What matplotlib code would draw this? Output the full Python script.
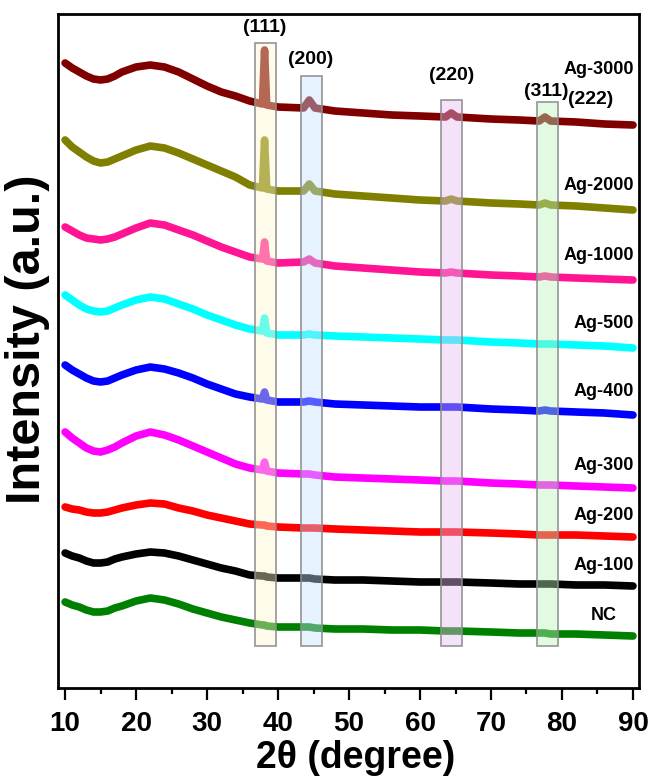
import matplotlib
matplotlib.use("Agg")
import matplotlib.pyplot as plt
from matplotlib.patches import Rectangle
from matplotlib.ticker import MultipleLocator

plt.rcParams['font.family'] = ['Liberation Sans', 'DejaVu Sans']
plt.rcParams['font.weight'] = 'bold'

# 2-theta positions (degree)
two_theta = [10, 11, 12, 13, 14, 15, 16, 17, 18, 20, 22, 24, 26, 28, 30, 32, 34, 36,
             37.8, 38.1, 38.4, 40, 43.6, 44.4, 45.2,
             48, 52, 56, 60, 63.6, 64.4, 65.2, 70, 74, 76.8, 77.6, 78.4, 82, 86, 90]

# intensities (a.u., stacked with offsets as in the figure)
ag3000 = [637, 632, 628, 624, 621, 620, 621, 624, 628, 633, 635, 633, 628, 621, 614, 608, 604, 599,
          596, 650, 595, 593, 592, 600, 592,
          589, 587, 585, 584, 583, 587, 583, 581, 580, 579, 583, 579, 578, 576, 575]
ag2000 = [560, 553, 548, 543, 539, 537, 538, 541, 544, 550, 554, 552, 547, 541, 535, 529, 523, 515,
          512, 560, 511, 509, 509, 516, 509,
          506, 504, 502, 500, 499, 501, 499, 497, 496, 495, 497, 495, 494, 492, 490]
ag1000 = [473, 469, 465, 462, 461, 460, 461, 463, 466, 472, 477, 475, 470, 465, 459, 453, 448, 443,
          441, 458, 439, 437, 438, 441, 437,
          434, 432, 430, 428, 427, 428, 427, 425, 424, 423, 424, 423, 422, 421, 420]
ag500 = [405, 400, 395, 391, 389, 388, 389, 392, 395, 400, 403, 401, 396, 391, 385, 380, 375, 371,
         369, 382, 367, 365, 365, 366, 365,
         364, 363, 362, 361, 360, 360, 360, 358, 357, 356, 356, 356, 355, 354, 352]
ag400 = [335, 330, 326, 322, 319, 318, 319, 322, 325, 330, 333, 331, 327, 322, 316, 311, 306, 303,
         301, 308, 300, 298, 298, 299, 298,
         296, 295, 294, 293, 293, 293, 293, 291, 290, 289, 290, 289, 288, 287, 285]
ag300 = [268, 262, 257, 252, 249, 248, 250, 253, 257, 264, 268, 265, 260, 254, 248, 242, 236, 232,
         230, 238, 229, 227, 226, 226, 225,
         223, 222, 221, 220, 219, 219, 219, 217, 216, 215, 215, 215, 214, 213, 212]
ag200 = [193, 191, 190, 188, 187, 187, 188, 190, 192, 195, 197, 196, 192, 189, 185, 182, 179, 176,
         175, 175, 174, 173, 172, 172, 172,
         171, 170, 169, 168, 168, 168, 168, 167, 166, 165, 165, 165, 165, 164, 163]
ag100 = [147, 144, 142, 139, 137, 137, 138, 141, 143, 146, 148, 147, 144, 140, 136, 132, 129, 125,
         124, 124, 123, 122, 122, 122, 121,
         120, 120, 119, 118, 118, 118, 118, 117, 116, 116, 116, 116, 115, 115, 114]
nc = [98, 95, 93, 90, 88, 88, 89, 92, 94, 99, 102, 100, 96, 91, 87, 83, 80, 77,
      75, 75, 74, 73, 73, 73, 72,
      71, 71, 70, 70, 69, 69, 69, 68, 67, 67, 67, 66, 66, 65, 64]

series_names = ['Ag-3000', 'Ag-2000', 'Ag-1000', 'Ag-500', 'Ag-400', 'Ag-300', 'Ag-200', 'Ag-100', 'NC']
series_values = [ag3000, ag2000, ag1000, ag500, ag400, ag300, ag200, ag100, nc]
series_colors = ['#800000', '#808000', '#FF1493', '#00FFFF', '#0000FF', '#FF00FF', '#FF0000', '#000000', '#008000']
label_y = [630, 515, 445, 376, 308, 234, 185, 135, 85]

# reflection planes
planes = ['(111)', '(200)', '(220)', '(311)', '(222)']
plane_label_x = [38.1, 44.6, 64.5, 77.8, 84.1]
plane_label_y = [672, 641, 624, 608, 601]
plane_ranges = [(36.8, 39.7), (43.2, 46.2), (63.0, 65.9), (76.5, 79.4)]
plane_tops = [657, 624, 600, 598]
plane_colors = ['#FFF7CD', '#C5E1FF', '#E6BBF2', '#BBF2BB']

fig = plt.figure(figsize=(6.51, 7.79), dpi=100)
ax = fig.add_axes([58/651, 1-688/779, 581/651, 674/779])

for name, vals, col in zip(series_names, series_values, series_colors):
    ax.plot(two_theta, vals, color=col, lw=5.5, solid_joinstyle='round', solid_capstyle='round', zorder=2)

for (x0, x1), top, col in zip(plane_ranges, plane_tops, plane_colors):
    ax.add_patch(Rectangle((x0, 54), x1 - x0, top - 54, facecolor=col, alpha=0.42,
                           edgecolor='none', zorder=3))
    ax.add_patch(Rectangle((x0, 54), x1 - x0, top - 54, facecolor='none',
                           edgecolor='#8C8C8C', lw=1.3, alpha=0.85, zorder=4))

for lab, lx, ly in zip(planes, plane_label_x, plane_label_y):
    ax.text(lx, ly, lab, ha='center', va='center', fontsize=14, fontweight='bold', zorder=5)

for name, ly in zip(series_names, label_y):
    if name == 'NC':
        ax.text(85.9, ly, name, ha='center', va='center', fontsize=13, fontweight='bold', zorder=5)
    else:
        ax.text(90.1, ly, name, ha='right', va='center', fontsize=13, fontweight='bold', zorder=5)

ax.set_xlim(9.0, 90.85)
ax.set_ylim(12, 686)
ax.set_yticks([])
ax.xaxis.set_major_locator(MultipleLocator(10))
ax.xaxis.set_minor_locator(MultipleLocator(5))
ax.tick_params(axis='x', which='major', direction='out', length=8.5, width=1.6, labelsize=20, pad=8)
ax.tick_params(axis='x', which='minor', direction='out', length=4, width=1.6)
for lab in ax.get_xticklabels():
    lab.set_fontweight('bold')
for sp in ax.spines.values():
    sp.set_linewidth(2)

fig.text(356/651, 1-758/779, '2θ (degree)', ha='center', va='center', fontsize=27, fontweight='bold')
fig.text(28/651, 1-339/779, 'Intensity (a.u.)', ha='center', va='center', rotation=90,
         fontsize=35, fontweight='bold')

fig.savefig('out.png', dpi=100)
